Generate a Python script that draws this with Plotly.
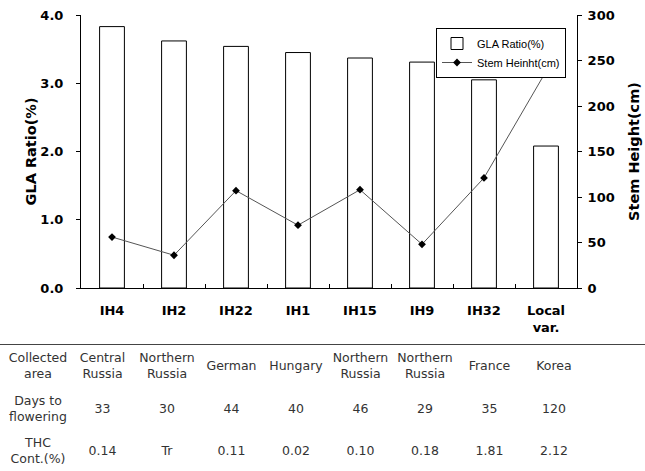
import plotly.graph_objects as go

# ---- data ----
categories = ["IH4", "IH2", "IH22", "IH1", "IH15", "IH9", "IH32", "Local<br>var."]
gla_ratio = [3.83, 3.62, 3.54, 3.45, 3.37, 3.31, 3.05, 2.08]
stem_height = [56, 36, 107, 69, 108, 48, 121, 238]

row_labels = ["Collected<br>area", "Days to<br>flowering", "THC<br>Cont.(%)"]
collected_area = ["Central<br>Russia", "Northern<br>Russia", "German", "Hungary",
                  "Northern<br>Russia", "Northern<br>Russia", "France", "Korea"]
days_to_flowering = ["33", "30", "44", "40", "46", "29", "35", "120"]
thc_content = ["0.14", "Tr", "0.11", "0.02", "0.10", "0.18", "1.81", "2.12"]

W, H = 645, 471
FONT = "DejaVu Sans, Liberation Sans, Arial, sans-serif"
LEG_FONT = "Liberation Sans, Arial, sans-serif"

fig = go.Figure()

fig.add_trace(go.Bar(
    x=categories, y=gla_ratio, name="GLA Ratio(%)",
    marker=dict(color="white", line=dict(color="black", width=1)),
    width=0.4, xaxis="x", yaxis="y",
))
fig.add_trace(go.Scatter(
    x=categories, y=stem_height, name="Stem Heinht(cm)",
    mode="lines+markers",
    line=dict(color="#555555", width=1),
    marker=dict(symbol="diamond", size=6, color="black"),
    xaxis="x", yaxis="y2",
))

# ---- table built from the rows through a text trace on its own axes ----
rows = [collected_area, days_to_flowering, thc_content]
tx, ty, tt = [], [], []
for r, (lab, vals) in enumerate(zip(row_labels, rows)):
    tx.append(0); ty.append(r); tt.append(lab)
    for c, v in enumerate(vals):
        tx.append(c + 1); ty.append(r); tt.append(v)
fig.add_trace(go.Scatter(
    x=tx, y=ty, text=tt, mode="text", textposition="middle center",
    textfont=dict(family=FONT, size=12.5, color="#333333"),
    showlegend=False, hoverinfo="skip", xaxis="x3", yaxis="y3",
))

bold = dict(family=FONT, size=13, color="black", weight="bold")
title_font = dict(family=FONT, size=14.5, color="black", weight="bold")

COL0, COLW = 38, 64.5   # table column layout in px

fig.update_layout(
    width=W, height=H,
    margin=dict(l=0, r=0, t=0, b=0),
    paper_bgcolor="white", plot_bgcolor="white",
    font=dict(family=FONT, color="black"),
    xaxis=dict(
        domain=[81 / W, 577 / W], anchor="y", type="category",
        range=[-0.5, 7.5],
        showline=True, linecolor="black", linewidth=1,
        ticks="inside", tickson="boundaries", ticklen=4, tickcolor="black",
        ticklabelstandoff=10,
        tickfont=bold, showgrid=False, zeroline=False, automargin=False,
    ),
    yaxis=dict(
        domain=[1 - 288 / H, 1 - 15 / H], anchor="x",
        range=[0, 4], dtick=1, tickformat=".1f",
        showline=True, linecolor="black", linewidth=1,
        ticks="outside", ticklen=4, tickcolor="black",
        ticklabelstandoff=10,
        tickfont=bold, showgrid=False, zeroline=False, automargin=False,
        title=dict(text="GLA Ratio(%)", font=title_font, standoff=0),
    ),
    yaxis2=dict(
        overlaying="y", side="right", anchor="x",
        range=[0, 300], dtick=50,
        showline=True, linecolor="black", linewidth=1,
        ticks="outside", ticklen=4, tickcolor="black",
        ticklabelstandoff=3,
        tickfont=bold, showgrid=False, zeroline=False, automargin=False,
        title=dict(text="Stem Height(cm)", font=title_font, standoff=15),
    ),
    xaxis3=dict(
        domain=[0, 1], anchor="y3", range=[-COL0 / COLW, (W - COL0) / COLW],
        side="top", showline=True, linecolor="#444444", linewidth=1,
        showticklabels=False, ticks="", showgrid=False, zeroline=False,
        automargin=False,
    ),
    yaxis3=dict(
        domain=[0, 126 / H], anchor="x3", range=[-0.518 + 126 / 42.5, -0.518],
        visible=False, showgrid=False, zeroline=False, automargin=False,
    ),
    legend=dict(
        x=436 / W, y=1 - 28 / H, xanchor="left", yanchor="top",
        bgcolor="white", bordercolor="black", borderwidth=1,
        font=dict(family=LEG_FONT, size=11, color="black"),
        itemwidth=30, tracegroupgap=0,
    ),
)

fig.write_html(
    "out.html",
    config={"displayModeBar": False},
    post_script="document.body.style.margin='0';document.body.style.padding='0';",
)
